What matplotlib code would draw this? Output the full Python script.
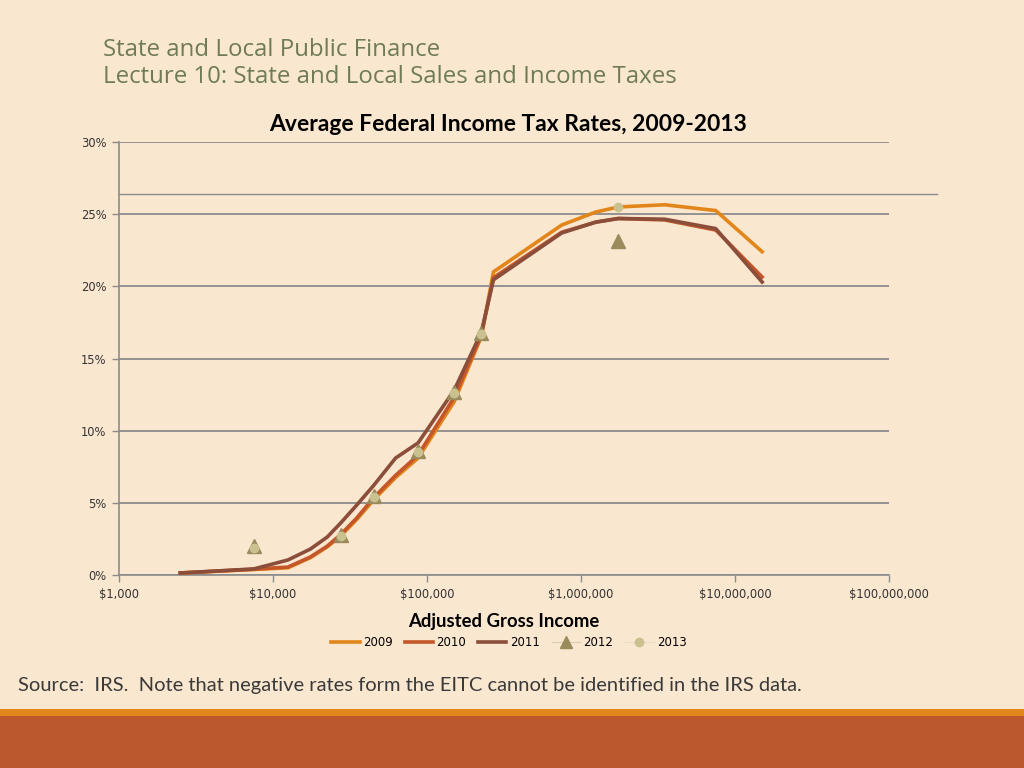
import numpy as np
import matplotlib
matplotlib.use("Agg")
import matplotlib.pyplot as plt
from matplotlib.lines import Line2D
from matplotlib.ticker import FuncFormatter

# AGI bracket points (dollars)
agi = [2500, 7500, 12500, 17500, 22500, 27500, 35000, 45000, 62500, 87500,
       150000, 225000, 270000, 750000, 1250000, 1750000, 3500000, 7500000, 15000000]

rate_2009 = [0.14, 0.38, 0.50, 1.20, 1.95, 2.70, 3.85, 5.20, 6.75, 8.10,
             12.0, 16.5, 21.0, 24.25, 25.15, 25.5, 25.65, 25.25, 22.4]
rate_2010 = [0.14, 0.40, 0.55, 1.25, 2.00, 2.80, 3.95, 5.35, 6.90, 8.30,
             12.3, 16.6, 20.6, 23.75, 24.45, 24.7, 24.6, 23.9, 20.65]
rate_2011 = [0.14, 0.42, 1.04, 1.80, 2.63, 3.60, 4.85, 6.20, 8.10, 9.15,
             12.8, 16.8, 20.45, 23.7, 24.45, 24.7, 24.65, 24.0, 20.3]

agi_pts = [7500, 27500, 45000, 87500, 150000, 225000, 1750000]
rate_2012 = [2.0, 2.8, 5.5, 8.6, 12.7, 16.8, 23.15]
rate_2013 = [1.85, 2.7, 5.4, 8.5, 12.6, 16.7, 25.5]

bg = "#FAE7D0"

fig = plt.figure(figsize=(10.24, 7.68), dpi=100, facecolor=bg)
ax = fig.add_axes([119/1024, 1-575/768, (889-119)/1024, (575-142)/768])
ax.set_facecolor(bg)

ax.plot(agi, rate_2009, color="#E2861B", lw=2.6, label="2009", zorder=3)
ax.plot(agi, rate_2010, color="#C4562A", lw=2.6, label="2010", zorder=4)
ax.plot(agi, rate_2011, color="#8B4E3A", lw=2.6, label="2011", zorder=5)
ax.plot(agi_pts, rate_2012, ls="none", marker="^", ms=10, color="#9A8A5C",
        label="2012", zorder=6)
ax.plot(agi_pts, rate_2013, ls="none", marker="o", ms=6, color="#C9C290",
        label="2013", zorder=7)

ax.set_xscale("log")
ax.set_xlim(1000, 1e8)
ax.set_ylim(0, 30)
ax.set_yticks(range(0, 31, 5))
ax.set_xticks([1e3, 1e4, 1e5, 1e6, 1e7, 1e8])
ax.xaxis.set_minor_locator(matplotlib.ticker.NullLocator())
ax.xaxis.set_major_formatter(FuncFormatter(lambda v, p: "${:,.0f}".format(v)))
ax.yaxis.set_major_formatter(FuncFormatter(lambda v, p: "{:.0f}%".format(v)))
ax.tick_params(labelsize=8.3, colors="#333333", length=5, width=1, pad=4)
ax.tick_params(axis="both", color="#8c8c8c")
ax.grid(axis="y", color="#8c8c8c", lw=1.3)
ax.set_axisbelow(True)
for s in ["top", "right"]:
    ax.spines[s].set_visible(False)
for s in ["left", "bottom"]:
    ax.spines[s].set_color("#8c8c8c")
    ax.spines[s].set_linewidth(1.2)

ax.set_title("Average Federal Income Tax Rates, 2009-2013", fontsize=16.5,
             fontweight="bold", family="Lato", pad=8, x=0.505)
ax.set_xlabel("Adjusted Gross Income", fontsize=13.3, fontweight="bold",
              family="Lato", labelpad=9)

handles = [
    Line2D([], [], color="#E2861B", lw=2.6),
    Line2D([], [], color="#C4562A", lw=2.6),
    Line2D([], [], color="#8B4E3A", lw=2.6),
    Line2D([], [], color="#d9cdb5", lw=0.8, marker="^", ms=8, mfc="#9A8A5C", mec="#9A8A5C"),
    Line2D([], [], color="#e8dcc5", lw=0.8, marker="o", ms=6, mfc="#C9C290", mec="#C9C290"),
]
fig.legend(handles, ["2009", "2010", "2011", "2012", "2013"], loc="center",
           bbox_to_anchor=(509/1024, 1-643/768), ncol=5, frameon=False,
           fontsize=8.5, handlelength=2.4, handletextpad=0.3, columnspacing=1.0)

# slide header
fig.text(103/1024, 1-50/768, "State and Local Public Finance", fontsize=17.3,
         color="#6E7B55", family="Open Sans", va="center", ha="left")
fig.text(103/1024, 1-77/768, "Lecture 10: State and Local Sales and Income Taxes",
         fontsize=17.3, color="#6E7B55", family="Open Sans", va="center", ha="left")

# stray slide rule
fig.add_artist(Line2D([119/1024, 937/1024], [1-194/768, 1-194/768],
                      color="#8c8c8c", lw=1.0))

fig.text(18/1024, 1-686/768,
         "Source:  IRS.  Note that negative rates form the EITC cannot be identified in the IRS data.",
         fontsize=14.5, color="#3a3a3a", family="Lato", va="center", ha="left")

# bottom bands
fig.add_artist(plt.Rectangle((0, 0), 1, 1-716/768, transform=fig.transFigure,
                             color="#BC582E", lw=0))
fig.add_artist(plt.Rectangle((0, 1-716/768), 1, 7/768, transform=fig.transFigure,
                             color="#E0861A", lw=0))

fig.savefig("out.png", dpi=100, facecolor=bg)
